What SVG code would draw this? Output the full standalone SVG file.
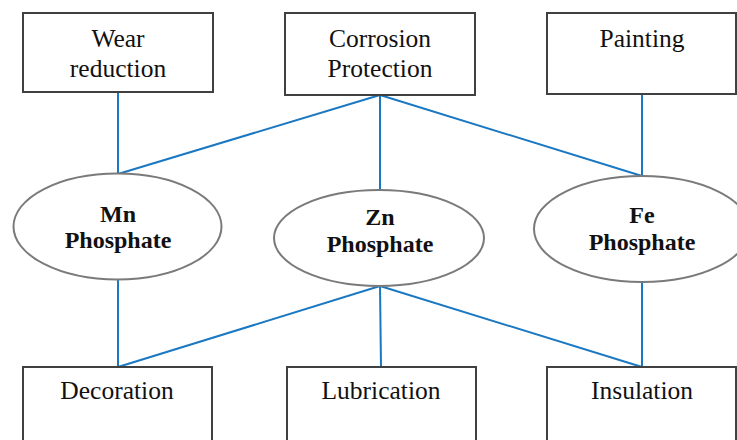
<svg xmlns="http://www.w3.org/2000/svg" width="737" height="440" viewBox="0 0 737 440">
<style>
.box{fill:#fff;stroke:#404040;stroke-width:2}
.ell{fill:#fff;stroke:#7a7a7a;stroke-width:2}
text{font-family:'Liberation Serif','Times New Roman',serif;fill:#111;text-anchor:middle}
.t{font-size:25.5px}
.b{font-size:24px;font-weight:bold}
.c line{stroke:#1a78c2;stroke-width:2}
</style>
<rect width="737" height="440" fill="#fff"/>
<g class="c" id="connectors">
<line x1="118" y1="92" x2="118" y2="174"/>
<line x1="380" y1="95" x2="118" y2="174"/>
<line x1="380" y1="95" x2="380" y2="190"/>
<line x1="380" y1="95" x2="642" y2="176"/>
<line x1="642" y1="94" x2="642" y2="176"/>
<line x1="118" y1="280" x2="118" y2="367"/>
<line x1="380" y1="286" x2="118" y2="367"/>
<line x1="380" y1="286" x2="381" y2="367"/>
<line x1="380" y1="286" x2="642" y2="367"/>
<line x1="642" y1="282" x2="642" y2="367"/>
</g>
<g id="wear"><rect class="box" x="23" y="13" width="190" height="79"/><text class="t" x="118" y="47">Wear</text><text class="t" x="118" y="77">reduction</text></g>
<g id="corrosion"><rect class="box" x="285" y="13" width="190" height="82"/><text class="t" x="380" y="47">Corrosion</text><text class="t" x="380" y="77">Protection</text></g>
<g id="painting"><rect class="box" x="547" y="13" width="189" height="81"/><text class="t" x="642" y="47">Painting</text></g>
<g id="mn"><ellipse class="ell" cx="117.5" cy="226.5" rx="104" ry="53"/><text class="b" x="118" y="222">Mn</text><text class="b" x="118" y="248">Phosphate</text></g>
<g id="zn"><ellipse class="ell" cx="379" cy="238" rx="105" ry="48"/><text class="b" x="380" y="225">Zn</text><text class="b" x="380" y="252">Phosphate</text></g>
<g id="fe"><ellipse class="ell" cx="642" cy="229" rx="108" ry="53"/><text class="b" x="642" y="223">Fe</text><text class="b" x="642" y="250">Phosphate</text></g>
<g id="decoration"><rect class="box" x="23" y="367" width="189" height="90"/><text class="t" x="117" y="399">Decoration</text></g>
<g id="lubrication"><rect class="box" x="287" y="367" width="189" height="90"/><text class="t" x="381" y="399">Lubrication</text></g>
<g id="insulation"><rect class="box" x="547" y="367" width="189" height="90"/><text class="t" x="642" y="399">Insulation</text></g>
</svg>
